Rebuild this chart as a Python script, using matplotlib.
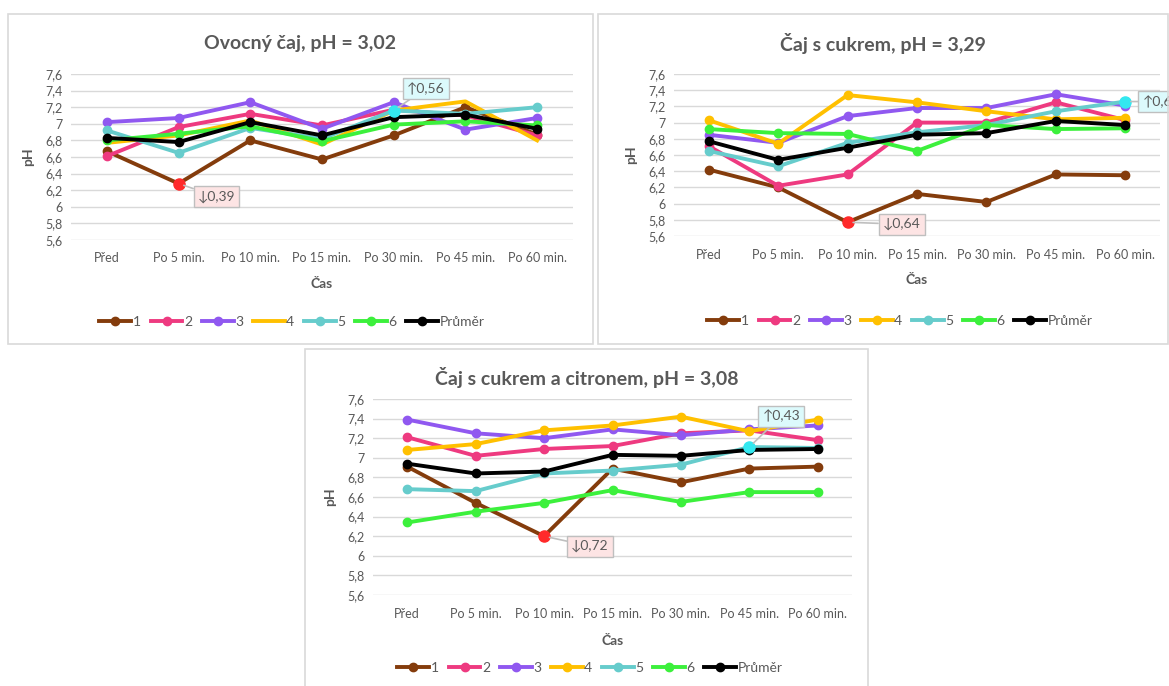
import numpy as np
import matplotlib.pyplot as plt
from matplotlib.patches import Rectangle
from matplotlib.ticker import FixedLocator, FuncFormatter

plt.rcParams['font.family'] = ['Lato', 'DejaVu Sans']

# -----------------------------
# Data
# -----------------------------
casy = ["Před", "Po 5 min.", "Po 10 min.", "Po 15 min.", "Po 30 min.", "Po 45 min.", "Po 60 min."]
serie = ["1", "2", "3", "4", "5", "6", "Průměr"]
barvy = ["#843c0c", "#ee3a80", "#9058f0", "#ffc000", "#66cccc", "#3cf03c", "#000000"]

# Ovocný čaj, pH = 3,02
ovocny_1 = [6.67, 6.28, 6.80, 6.57, 6.86, 7.20, 6.87]
ovocny_2 = [6.61, 6.96, 7.12, 6.98, 7.17, 7.10, 6.86]
ovocny_3 = [7.02, 7.07, 7.26, 6.94, 7.26, 6.93, 7.07]
ovocny_4 = [6.77, 6.86, 7.04, 6.75, 7.16, 7.27, 6.80]
ovocny_5 = [6.92, 6.65, 6.95, 6.82, 7.16, 7.12, 7.20]
ovocny_6 = [6.80, 6.88, 6.97, 6.79, 6.99, 7.03, 6.98]
ovocny_prumer = [6.83, 6.78, 7.02, 6.86, 7.08, 7.11, 6.94]

# Čaj s cukrem, pH = 3,29
cukr_1 = [6.42, 6.20, 5.77, 6.12, 6.02, 6.36, 6.35]
cukr_2 = [6.71, 6.22, 6.36, 7.00, 7.00, 7.25, 7.03]
cukr_3 = [6.85, 6.75, 7.08, 7.18, 7.18, 7.35, 7.21]
cukr_4 = [7.03, 6.74, 7.34, 7.25, 7.14, 7.04, 7.06]
cukr_5 = [6.65, 6.46, 6.75, 6.88, 6.97, 7.14, 7.26]
cukr_6 = [6.92, 6.87, 6.86, 6.65, 6.97, 6.92, 6.93]
cukr_prumer = [6.77, 6.54, 6.69, 6.85, 6.87, 7.02, 6.97]

# Čaj s cukrem a citronem, pH = 3,08
citron_1 = [6.91, 6.54, 6.20, 6.89, 6.75, 6.89, 6.91]
citron_2 = [7.21, 7.02, 7.09, 7.12, 7.25, 7.28, 7.18]
citron_3 = [7.39, 7.25, 7.20, 7.29, 7.23, 7.29, 7.33]
citron_4 = [7.08, 7.14, 7.28, 7.33, 7.42, 7.27, 7.39]
citron_5 = [6.68, 6.66, 6.84, 6.87, 6.93, 7.11, 7.10]
citron_6 = [6.34, 6.45, 6.54, 6.67, 6.55, 6.65, 6.65]
citron_prumer = [6.94, 6.84, 6.86, 7.03, 7.02, 7.08, 7.09]

# callouts: (series index, time index, text)
ovocny_popisky = [(0, 1, "↓0,39"), (4, 4, "↑0,56")]
cukr_popisky = [(0, 2, "↓0,64"), (4, 6, "↑0,61")]
citron_popisky = [(0, 2, "↓0,72"), (4, 5, "↑0,43")]

# -----------------------------
# Figure
# -----------------------------
W, H = 1169, 686
fig = plt.figure(figsize=(W / 100, H / 100), dpi=100)
seda = "#595959"


def box(x0, y0, x1, y1):
    # pixel coords from top-left -> figure fraction
    return [x0 / W, 1 - y1 / H, (x1 - x0) / W, (y1 - y0) / H]


def fmt(v, pos):
    s = f"{v:.1f}".replace(".", ",")
    return s[:-2] if s.endswith(",0") else s


def graf(ramec, plocha, nazev, data, popisky, bez_znacek=(), cas_pad=10):
    fx0, fy0, fx1, fy1 = ramec
    fig.patches.append(Rectangle((fx0 / W, 1 - fy1 / H), (fx1 - fx0) / W, (fy1 - fy0) / H,
                                 transform=fig.transFigure, fill=False,
                                 edgecolor="#d9d9d9", lw=1.2, zorder=0))
    ax = fig.add_axes(box(*plocha))
    x = np.arange(len(casy))
    for i, y in enumerate(data):
        ax.plot(x, y, color=barvy[i], lw=2.8, marker=None if i in bez_znacek else "o",
                ms=6, label=serie[i], zorder=3 + i, clip_on=False)
    for si, ti, text in popisky:
        dolu = text.startswith("↓")
        bod = "#ff2a2a" if dolu else "#33e8f0"
        ax.plot(x[ti], data[si][ti], "o", color=bod, ms=8, zorder=20, clip_on=False)
    ax.set_xlim(-0.5, len(casy) - 0.5)
    ax.set_ylim(5.6, 7.6)
    ax.yaxis.set_major_locator(FixedLocator(np.arange(5.6, 7.61, 0.2)))
    ax.yaxis.set_major_formatter(FuncFormatter(fmt))
    ax.set_xticks(x)
    ax.set_xticklabels(casy)
    ax.grid(axis="y", color="#d9d9d9", lw=1)
    ax.set_axisbelow(True)
    for s in ax.spines.values():
        s.set_visible(False)
    ax.tick_params(length=0, colors=seda, labelsize=9, pad=6)
    ax.tick_params(axis="x", pad=9)
    ax.set_xlabel("Čas", color=seda, fontsize=10, fontweight="bold", labelpad=cas_pad)
    ax.set_ylabel("pH", color=seda, fontsize=10, fontweight="bold", labelpad=8)
    fig.text((fx0 + fx1) / 2 / W, 1 - (fy0 + 29) / H, nazev, ha="center", va="center",
             fontsize=14, fontweight="bold", color=seda)
    return ax


def popis(ax, data, si, ti, text, dx, dy):
    dolu = text.startswith("↓")
    ax.annotate(text, xy=(ti, data[si][ti]), xytext=(dx, dy), textcoords="offset pixels",
                ha="center", va="center", fontsize=10, color=seda, zorder=30,
                bbox=dict(boxstyle="square,pad=0.3", fc="#fde4e4" if dolu else "#dcfafc",
                          ec="#bfbfbf", lw=1),
                arrowprops=dict(arrowstyle="-", color="#bfbfbf", lw=1.2, shrinkA=0, shrinkB=4))


def legenda(ax, cx, cy):
    ax.legend(loc="center", bbox_to_anchor=(cx / W, 1 - cy / H), bbox_transform=fig.transFigure,
              ncol=7, frameon=False, fontsize=10, labelcolor=seda, handlelength=2.3,
              handletextpad=0.1, columnspacing=0.7, borderaxespad=0)


# Chart 1
ovocny = [ovocny_1, ovocny_2, ovocny_3, ovocny_4, ovocny_5, ovocny_6, ovocny_prumer]
ax1 = graf((8, 14, 593, 344), (71, 74, 573, 240), "Ovocný čaj, pH = 3,02", ovocny,
           ovocny_popisky, bez_znacek=(3,))
popis(ax1, ovocny, 0, 1, "↓0,39", 38, -13)
popis(ax1, ovocny, 4, 4, "↑0,56", 32, 22)
legenda(ax1, 292, 322)

# Chart 2
cukr = [cukr_1, cukr_2, cukr_3, cukr_4, cukr_5, cukr_6, cukr_prumer]
ax2 = graf((598, 14, 1168, 344), (674, 74, 1160, 236), "Čaj s cukrem, pH = 3,29", cukr, cukr_popisky)
popis(ax2, cukr, 0, 2, "↓0,64", 54, -2)
popis(ax2, cukr, 4, 6, "↑0,61", 36, 0)
legenda(ax2, 900, 321)

# Chart 3
citron = [citron_1, citron_2, citron_3, citron_4, citron_5, citron_6, citron_prumer]
ax3 = graf((305, 349, 868, 700), (373, 399, 852, 595), "Čaj s cukrem a citronem, pH = 3,08", citron,
           citron_popisky, cas_pad=11)
popis(ax3, citron, 0, 2, "↓0,72", 46, -10)
popis(ax3, citron, 4, 5, "↑0,43", 32, 31)
legenda(ax3, 590, 668)

fig.savefig("out.png", dpi=100)
